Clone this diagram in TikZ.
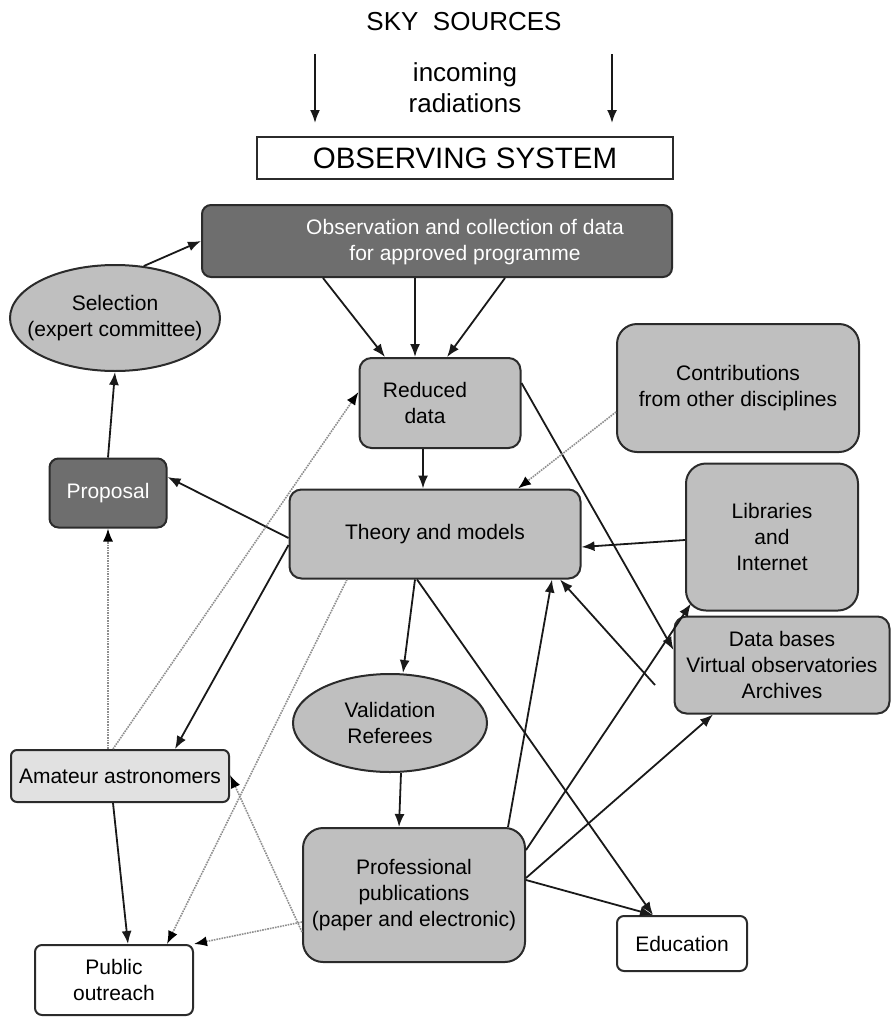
\documentclass[tikz,border=0pt]{standalone}
\usepackage{fontspec}
\setmainfont{Liberation Sans}
\usetikzlibrary{arrows.meta,shapes.geometric}
\definecolor{boxdark}{HTML}{6E6E6E}
\definecolor{boxmid}{HTML}{BFBFBF}
\definecolor{boxlight}{HTML}{E1E1E1}
\definecolor{rim}{HTML}{2B2B2B}
\definecolor{dotline}{HTML}{8E8E8E}

\begin{document}
\begin{tikzpicture}
[
    x=1pt, y=-1pt,
    every node/.style={font=\fontsize{21}{26}\selectfont},
    box/.style={draw=rim, line width=2pt, fill=boxmid, rounded corners=12pt, inner sep=0pt, align=center},
    darkbox/.style={box, fill=boxdark, text=white, rounded corners=9pt},
    plainbox/.style={box, fill=white, rounded corners=7pt},
    oval/.style={ellipse, draw=rim, line width=2pt, fill=boxmid, inner sep=-20pt, align=center},
    link/.style={-{Latex[length=13pt,width=10pt]}, line width=1.8pt, draw=black!90},
    hint/.style={-{Latex[length=13pt,width=10pt,color=black]}, line width=1.6pt, draw=dotline, densely dotted}
]
    \useasboundingbox (0,0) rectangle (891,1017);

    % sky and observing system
    \node [font=\fontsize{26}{31}\selectfont] (sky) at (464,22) {SKY\ \ SOURCES};
    \node [align=center, font=\fontsize{26}{31}\selectfont] (rad) at (465,88) {incoming\\radiations};
    \node [draw=rim, line width=1.6pt, inner sep=0pt, minimum width=416pt, minimum height=42pt,
           font=\fontsize{29.5}{34}\selectfont] (obs) at (465,158) {OBSERVING SYSTEM};
    \coordinate (rayL) at (315,54);
    \coordinate (rayLend) at (315,123);
    \coordinate (rayR) at (612,54);
    \coordinate (rayRend) at (612,123);

    % boxes
    \node [darkbox, minimum width=470pt, minimum height=72pt] (collect) at (437,241) {};
    \node [text=white, align=center] (collecttxt) at (465,242) {Observation and collection of data\\for approved programme};
    \node [oval, minimum width=210pt, minimum height=106pt] (select) at (115,318) {Selection\\(expert committee)};
    \node [box, minimum width=161pt, minimum height=90pt] (reduced) at (440,403) {};
    \node [align=center] (reducedtxt) at (425,403) {Reduced\\data};
    \node [box, rounded corners=20pt, minimum width=242pt, minimum height=128pt] (contrib) at (738,388) {Contributions\\from other disciplines};
    \node [darkbox, minimum width=117pt, minimum height=69pt] (proposal) at (108,493) {Proposal};
    \node [box, minimum width=291pt, minimum height=89pt] (theory) at (435,534) {Theory and models};
    \node [box, rounded corners=20pt, minimum width=172pt, minimum height=147pt] (library) at (772,537) {Libraries\\and\\Internet};
    \node [box, minimum width=215pt, minimum height=97pt] (database) at (782,665) {Data bases\\Virtual observatories\\Archives};
    \node [oval, minimum width=194pt, minimum height=98pt] (valid) at (390,723) {Validation\\Referees};
    \node [box, fill=boxlight, rounded corners=6pt, minimum width=218pt, minimum height=52pt] (amateur) at (120,776) {Amateur astronomers};
    \node [box, rounded corners=20pt, minimum width=222pt, minimum height=134pt] (prof) at (414,895) {Professional\\publications\\(paper and electronic)};
    \node [plainbox, minimum width=130pt, minimum height=55pt] (edu) at (682,943.5) {Education};
    \node [plainbox, minimum width=158pt, minimum height=70pt] (outreach) at (114,980) {Public\\outreach};
    \coordinate (dbfree) at (655,685);

    % solid arrows
    \draw [link] (rayL) -- (rayLend);
    \draw [link] (rayR) -- (rayRend);
    \draw [link] (select.61) -- (collect.west);
    \draw [link] (proposal.north) -- (select.south);
    \draw [link] ([xshift=-114pt]collect.south) -- ([xshift=-55pt]reduced.north);
    \draw [link] ([xshift=-22pt]collect.south) -- ([xshift=-25pt]reduced.north);
    \draw [link] ([xshift=68pt]collect.south) -- ([xshift=7pt]reduced.north);
    \draw [link] ([xshift=-17pt]reduced.south) -- ([xshift=-12pt]theory.north);
    \draw [link] ([yshift=-4pt]theory.west) -- ([yshift=16pt]proposal.east);
    \draw [link] ([yshift=-11pt]theory.west) -- ([xshift=55pt]amateur.north);
    \draw [link] ([xshift=-20pt]theory.south) -- ([xshift=13pt]valid.north);
    \draw [link] ([xshift=-18pt]theory.south) -- ([xshift=-29pt]edu.north);
    \draw [link] ([xshift=11pt]valid.south) -- ([xshift=-15pt]prof.north);
    \draw [link] ([xshift=-18pt]prof.north east) -- ([xshift=117pt]theory.south);
    \draw [link] (dbfree) -- ([xshift=125pt]theory.south);
    \draw [link] ([yshift=45pt]prof.east) -- ([xshift=6pt,yshift=8pt]library.south west);
    \draw [link] ([yshift=17pt]prof.east) -- ([xshift=-69pt]database.south);
    \draw [link] ([yshift=15pt]prof.east) -- ([xshift=-29pt]edu.north);
    \draw [link] ([yshift=20pt]reduced.east) -- ([yshift=15pt]database.west);
    \draw [link] ([yshift=-3pt]library.west) -- ([yshift=-13pt]theory.east);
    \draw [link] ([xshift=-7pt]amateur.south) -- ([xshift=14pt]outreach.north);

    % dotted arrows
    \draw [hint] ([yshift=-24pt]contrib.west) -- ([xshift=83pt]theory.north);
    \draw [hint] ([xshift=-12pt]amateur.north) -- (proposal.south);
    \draw [hint] ([xshift=-7pt]amateur.north) -- ([yshift=11pt]reduced.west);
    \draw [hint] ([yshift=-37pt]prof.west) -- ([yshift=1pt]amateur.east);
    \draw [hint] ([yshift=-27pt]prof.west) -- (outreach.north east);
    \draw [hint] ([xshift=-88pt]theory.south) -- ([xshift=53pt]outreach.north);
\end{tikzpicture}
\end{document}
